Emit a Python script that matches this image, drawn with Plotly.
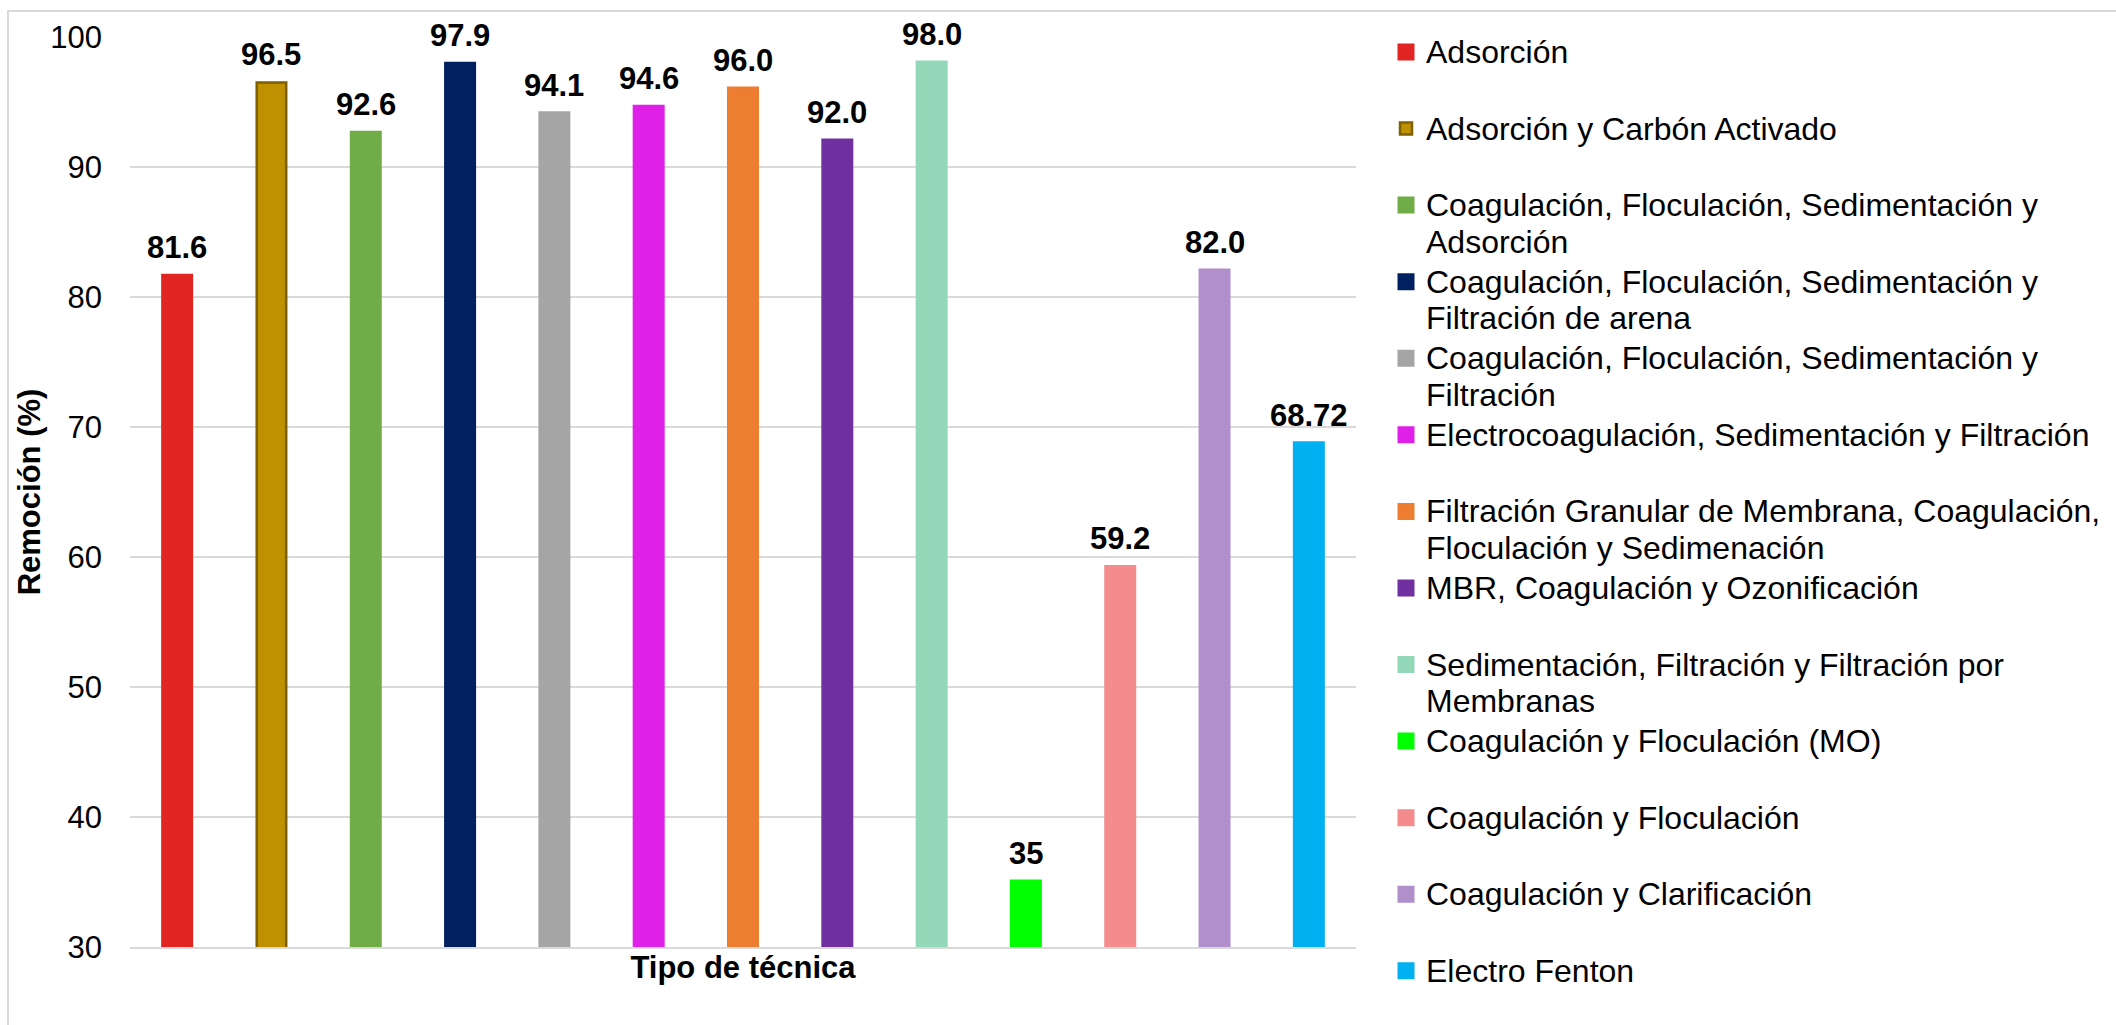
import plotly.graph_objects as go

# Técnicas de tratamiento (orden del eje y de la leyenda)
tecnicas = [
    "Adsorción",
    "Adsorción y Carbón Activado",
    "Coagulación, Floculación, Sedimentación y\nAdsorción",
    "Coagulación, Floculación, Sedimentación y\nFiltración de arena",
    "Coagulación, Floculación, Sedimentación y\nFiltración",
    "Electrocoagulación, Sedimentación y Filtración",
    "Filtración Granular de Membrana, Coagulación,\nFloculación y Sedimenación",
    "MBR, Coagulación y Ozonificación",
    "Sedimentación, Filtración y Filtración por\nMembranas",
    "Coagulación y Floculación (MO)",
    "Coagulación y Floculación",
    "Coagulación y Clarificación",
    "Electro Fenton",
]

# Porcentaje de remoción por técnica
remocion = [81.6, 96.5, 92.6, 97.9, 94.1, 94.6, 96.0, 92.0, 98.0, 35, 59.2, 82.0, 68.72]
etiquetas = ["81.6", "96.5", "92.6", "97.9", "94.1", "94.6", "96.0", "92.0", "98.0",
             "35", "59.2", "82.0", "68.72"]

colores = ["#E02522", "#BF9000", "#70AD47", "#002060", "#A5A5A5", "#DF20E8", "#ED7D31",
           "#7030A0", "#93D9B9", "#00FF00", "#F48C8D", "#B08FCB", "#00B0F0"]
bordes = [None, "#7F6000", None, None, None, None, None, None, None, None, None, None, None]

eje_y_ticks = [30, 40, 50, 60, 70, 80, 90, 100]

# Lienzo y área de trazado (px)
W, H = 2116, 1025
ML, MR, MT, MB = 130, 760, 37, 78
PW, PH = W - ML - MR, H - MT - MB
SLOT = PW / len(remocion)          # ancho de cada categoría en px
BAR_PX = 32                        # ancho visible de cada barra
FONT = "Liberation Sans, Arial, Helvetica, sans-serif"
GRID = "#D9D9D9"


def etiqueta_leyenda(nombre):
    lineas = nombre.split("\n")
    if len(lineas) == 1:
        lineas.append("\u00a0")
    return "<br>".join(f'<span style="font-size:32px">{ln}</span>' for ln in lineas)


def px_x(px):
    return (px - ML) / PW


def px_y(py):
    return (H - MB - py) / PH


fig = go.Figure()

for i, (nombre, valor, color, borde) in enumerate(zip(tecnicas, remocion, colores, bordes)):
    lw = 2.5 if borde else 5
    fig.add_trace(go.Bar(
        x=[i],
        y=[valor],
        width=[(BAR_PX - lw) / SLOT],
        name=etiqueta_leyenda(nombre),
        marker=dict(color=color, line=dict(color=borde or color, width=lw)),
        hoverinfo="skip",
    ))

# Etiquetas de valor sobre cada barra
for i, (valor, txt) in enumerate(zip(remocion, etiquetas)):
    fig.add_annotation(
        x=i, y=valor, text=f"<b>{txt}</b>", showarrow=False,
        xanchor="center", yanchor="middle", yshift=28.5,
        font=dict(family=FONT, size=31, color="#000000"),
    )

# Borde del área del gráfico
fig.add_shape(
    type="rect", xref="paper", yref="paper",
    x0=px_x(8), x1=px_x(W + 20), y0=px_y(H + 20), y1=px_y(11),
    line=dict(color=GRID, width=2), fillcolor="rgba(0,0,0,0)", layer="below",
)

fig.update_layout(
    width=W, height=H,
    margin=dict(l=ML, r=MR, t=MT, b=MB, pad=0),
    paper_bgcolor="white", plot_bgcolor="white",
    barmode="overlay",
    font=dict(family=FONT, color="#000000"),
    showlegend=True,
    legend=dict(
        xref="container", yref="container",
        x=1386 / W, y=1 - 27 / H, xanchor="left", yanchor="top",
        valign="top", traceorder="normal", tracegroupgap=0,
        maxheight=1,
        font=dict(family=FONT, size=28.3, color="#000000"),
        bgcolor="rgba(0,0,0,0)", borderwidth=0,
    ),
    xaxis=dict(
        range=[-0.5, len(remocion) - 0.5],
        showticklabels=False, ticks="", showgrid=False, zeroline=False,
        showline=True, linecolor=GRID, linewidth=2,
        title=dict(text="<b>Tipo de técnica</b>", standoff=8,
                   font=dict(family=FONT, size=31, color="#000000")),
        fixedrange=True,
    ),
    yaxis=dict(
        range=[30, 100], tickvals=eje_y_ticks,
        showgrid=True, gridcolor=GRID, gridwidth=2,
        zeroline=False, showline=False, ticks="",
        ticklabelstandoff=27,
        tickfont=dict(family=FONT, size=31, color="#000000"),
        title=dict(text="<b>Remoción (%)</b>", standoff=0,
                   font=dict(family=FONT, size=31, color="#000000")),
        fixedrange=True,
    ),
)

fig.write_html("out.html")
